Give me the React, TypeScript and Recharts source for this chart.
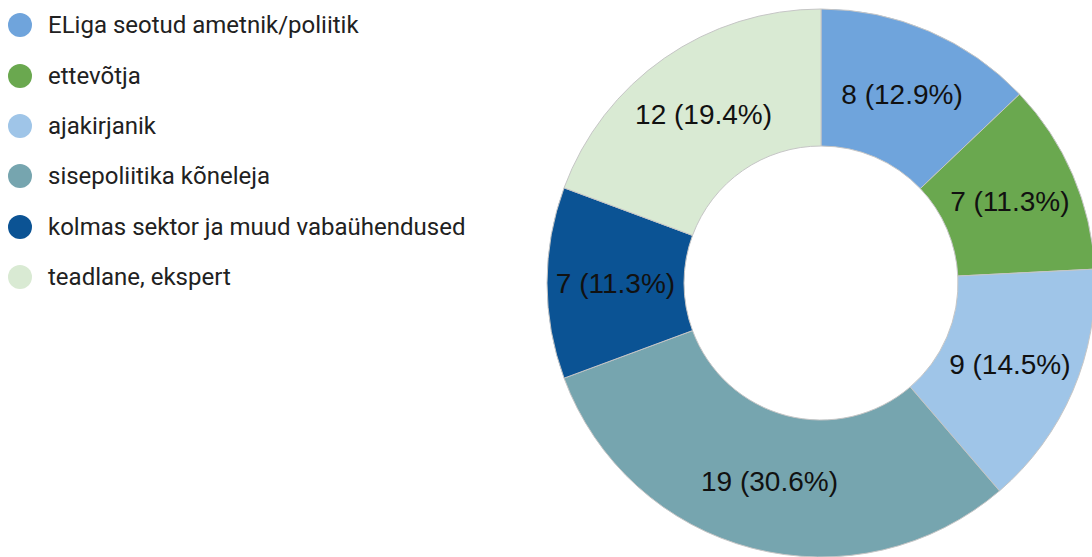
import { PieChart, Pie, Cell } from "recharts";

const categories = [
  "ELiga seotud ametnik/poliitik",
  "ettevõtja",
  "ajakirjanik",
  "sisepoliitika kõneleja",
  "kolmas sektor ja muud vabaühendused",
  "teadlane, ekspert",
];
const counts = [8, 7, 9, 19, 7, 12];
const colors = ["#6fa4dc", "#6aa84f", "#9fc5e8", "#76a5af", "#0b5394", "#d9ead3"];

const total = counts.reduce((a, b) => a + b, 0);
const data = categories.map((name, i) => ({ name, value: counts[i] }));

const RAD = Math.PI / 180;

const renderLabel = ({ cx, cy, midAngle, innerRadius, outerRadius, value }: any) => {
  const r = (innerRadius + outerRadius) / 2;
  const x = cx + r * Math.cos(-midAngle * RAD);
  const y = cy + r * Math.sin(-midAngle * RAD);
  return (
    <text x={x} y={y} textAnchor="middle" dominantBaseline="central"
      style={{ fontFamily: "'Liberation Sans', Arial, sans-serif", fontSize: 28, fill: "#111" }}>
      {`${value} (${((value / total) * 100).toFixed(1)}%)`}
    </text>
  );
};

export default function App() {
  return (
    <div style={{ position: "absolute", left: 0, top: 0, width: 1092, height: 557, background: "#fff" }}>
      <div style={{ position: "absolute", left: 0, top: 0 }}>
        {categories.map((c, i) => (
          <div key={c} style={{ display: "flex", alignItems: "center", height: 50.4 }}>
            <span style={{ width: 24, height: 24, borderRadius: 12, background: colors[i], marginLeft: 8, marginRight: 16, flexShrink: 0 }} />
            <span style={{ fontFamily: "Roboto, sans-serif", fontSize: 24, color: "#212121", whiteSpace: "nowrap" }}>{c}</span>
          </div>
        ))}
      </div>
      <div style={{ position: "absolute", left: 0, top: 0 }}>
        <PieChart width={1092} height={557} margin={{ top: 0, right: 0, bottom: 0, left: 0 }}>
          <Pie data={data} dataKey="value" cx={821} cy={283} innerRadius={137} outerRadius={274}
            startAngle={90} endAngle={-270} stroke="#c6c6c6" strokeWidth={1}
            label={renderLabel} labelLine={false} isAnimationActive={false}>
            {data.map((d, i) => <Cell key={d.name} fill={colors[i]} />)}
          </Pie>
        </PieChart>
      </div>
    </div>
  );
}
